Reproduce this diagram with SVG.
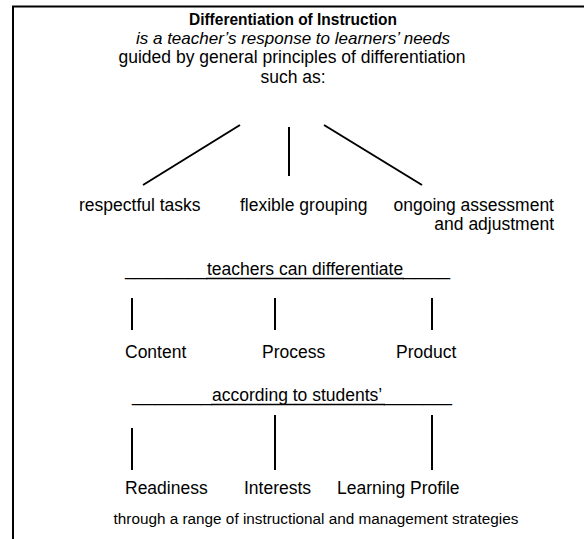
<svg xmlns="http://www.w3.org/2000/svg" width="584" height="539" viewBox="0 0 584 539">
<style>
text{font-family:"Liberation Sans",Arial,sans-serif;font-size:17.5px;fill:#000}
.b{font-weight:bold;font-size:17px}
.i{font-style:italic;font-size:17px}
.s{font-size:15.3px}
line,path{stroke:#000;stroke-width:2;fill:none}
.ul{stroke-width:1.5}
</style>
<rect width="584" height="539" fill="#fff"/>
<path id="frame" d="M13,539 V6.5 H584"/>
<g id="header">
<text class="b" x="293" y="25" text-anchor="middle" textLength="208" lengthAdjust="spacingAndGlyphs">Differentiation of Instruction</text>
<text class="i" x="293" y="44" text-anchor="middle">is a teacher’s response to learners’ needs</text>
<text x="292" y="63" text-anchor="middle">guided by general principles of differentiation</text>
<text x="293" y="83" text-anchor="middle">such as:</text>
</g>
<g id="connectors">
<line x1="240" y1="125" x2="143" y2="185"/>
<line x1="289" y1="127" x2="289" y2="176"/>
<line x1="324" y1="125" x2="422" y2="185"/>
<line x1="132" y1="298" x2="132" y2="330"/>
<line x1="275" y1="298" x2="275" y2="330"/>
<line x1="432" y1="298" x2="432" y2="330"/>
<line x1="132" y1="428" x2="132" y2="470"/>
<line x1="275" y1="415" x2="275" y2="470"/>
<line x1="432" y1="415" x2="432" y2="470"/>
</g>
<g id="respectful"><text x="79" y="211">respectful tasks</text></g>
<g id="flexible"><text x="240" y="211">flexible grouping</text></g>
<g id="ongoing"><text x="554" y="211" text-anchor="end">ongoing assessment</text><text x="554" y="230" text-anchor="end">and adjustment</text></g>
<g id="teachers"><text y="275"><tspan x="125" textLength="82" lengthAdjust="spacingAndGlyphs">_________</tspan><tspan x="207">teachers can differentiate</tspan><tspan x="403" textLength="47" lengthAdjust="spacingAndGlyphs">____</tspan></text><line class="ul" x1="206" y1="278.4" x2="404" y2="278.4"/></g>
<g id="content"><text x="125" y="358">Content</text></g>
<g id="process"><text x="262" y="358">Process</text></g>
<g id="product"><text x="396" y="358">Product</text></g>
<g id="according"><text y="401"><tspan x="132" textLength="80" lengthAdjust="spacingAndGlyphs">_______</tspan><tspan x="212">according to students’</tspan><tspan x="384" textLength="68" lengthAdjust="spacingAndGlyphs">_______</tspan></text><line class="ul" x1="211" y1="404.4" x2="385" y2="404.4"/></g>
<g id="readiness"><text x="125" y="494">Readiness</text></g>
<g id="interests"><text x="244" y="494">Interests</text></g>
<g id="profile"><text x="337" y="494">Learning Profile</text></g>
<g id="strategies"><text class="s" x="316" y="524" text-anchor="middle">through a range of instructional and management strategies</text></g>
</svg>
